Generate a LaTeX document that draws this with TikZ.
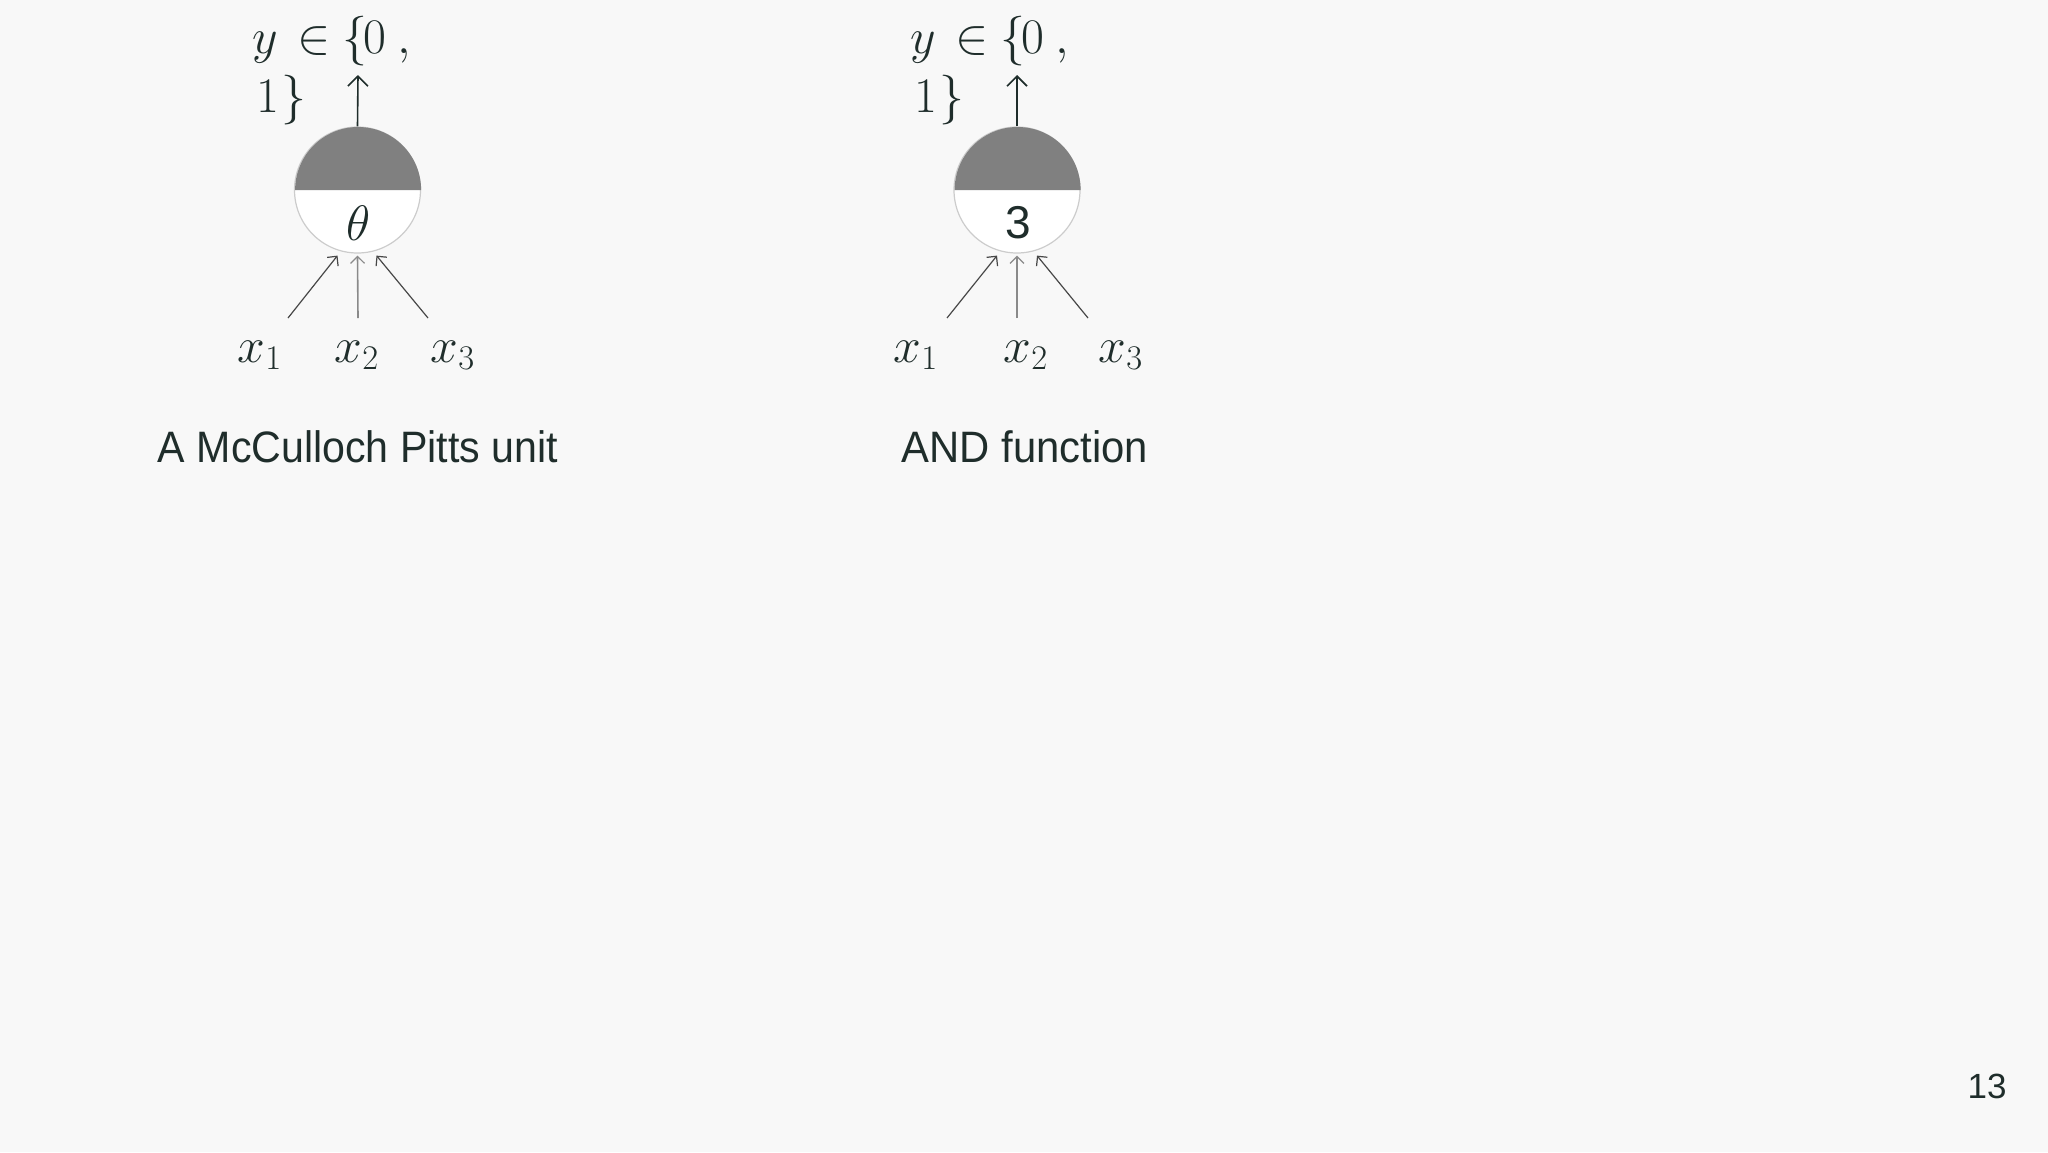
\documentclass[tikz,border=0pt]{standalone}
\usepackage{fontspec}
\newfontfamily\arialf{Liberation Sans}
\usetikzlibrary{arrows.meta}
\definecolor{bg}{HTML}{F8F8F8}
\definecolor{ink}{HTML}{1F2D2B}
\definecolor{halffill}{HTML}{808080}
\definecolor{rim}{HTML}{CCCCCC}
\definecolor{sidearrow}{HTML}{474747}
\definecolor{midarrow}{HTML}{8A8A8A}
\begin{document}
\begin{tikzpicture}[x=0.5pt,y=-0.5pt,
  unit/.style={circle, draw=rim, line width=0.6pt, fill=white, minimum size=63pt, inner sep=0pt},
  outarrow/.style={draw=ink, line width=0.8pt, -{Straight Barb[length=5pt,width=10pt,line width=0.8pt]}},
  inarrow/.style={draw=sidearrow, line width=0.6pt, -{Straight Barb[length=3.5pt,width=7pt,line width=0.6pt]}},
  midin/.style={inarrow, draw=midarrow, line width=0.8pt},
  mathlbl/.style={text=ink, inner sep=0pt, anchor=base west, font=\fontsize{24}{28}\selectfont},
  inlbl/.style={text=ink, inner sep=0pt, anchor=base, font=\fontsize{25}{29}\selectfont},
  caption/.style={text=ink, inner sep=0pt, anchor=base, font=\arialf\fontsize{22}{26}\selectfont}]
\fill[bg] (0,0) rectangle (2048,1152);
\useasboundingbox (0,0) rectangle (2048,1152);

% ---------- left unit ----------
\node[unit] (u1) at (357.5,190) {};
\fill[halffill] (u1.east) arc[start angle=0, end angle=180, radius=31.5pt] -- cycle;
\node[text=ink, inner sep=0pt, font=\fontsize{24}{28}\selectfont] (t1) at (359,223) {$\theta$};
\node[mathlbl] (ya1) at (252,53) {$y\kern9.7pt{\in}\kern6pt\{\kern-2pt0\kern5.5pt,$};
\node[mathlbl] (yb1) at (256,112) {$1\kern1pt\}$};
\coordinate (o1) at (358,75);
\draw[outarrow] (u1.north) -- (o1);
\node[inlbl] (x11) at (260,362) {$x_1$};
\node[inlbl] (x12) at (357,362) {$x_2$};
\node[inlbl] (x13) at (453,362) {$x_3$};
\coordinate (s11) at (288,318);
\coordinate (s12) at (358,318);
\coordinate (s13) at (428,318);
\draw[inarrow] (s11) -- ([xshift=-10pt,yshift=-1pt]u1.south);
\draw[midin] (s12) -- ([yshift=-1pt]u1.south);
\draw[inarrow] (s13) -- ([xshift=9.5pt,yshift=-1pt]u1.south);
\node[caption] (c1) at (358,462) {\scalebox{0.935}[1]{A McCulloch Pitts unit}};

% ---------- right unit ----------
\node[unit] (u2) at (1017,190) {};
\fill[halffill] (u2.east) arc[start angle=0, end angle=180, radius=31.5pt] -- cycle;
\node[text=ink, inner sep=0pt, font=\arialf\fontsize{23}{27}\selectfont] (t2) at (1018,223) {3};
\node[mathlbl] (ya2) at (910,53) {$y\kern9.7pt{\in}\kern6pt\{\kern-2pt0\kern5.5pt,$};
\node[mathlbl] (yb2) at (914,112) {$1\kern1pt\}$};
\coordinate (o2) at (1017,75);
\draw[outarrow] (u2.north) -- (o2);
\node[inlbl] (x21) at (916,362) {$x_1$};
\node[inlbl] (x22) at (1026,362) {$x_2$};
\node[inlbl] (x23) at (1121,362) {$x_3$};
\coordinate (s21) at (947,318);
\coordinate (s22) at (1017,318);
\coordinate (s23) at (1088,318);
\draw[inarrow] (s21) -- ([xshift=-10pt,yshift=-1pt]u2.south);
\draw[midin] (s22) -- ([yshift=-1pt]u2.south);
\draw[inarrow] (s23) -- ([xshift=10pt,yshift=-1pt]u2.south);
\node[caption] (c2) at (1025,462) {\scalebox{0.95}[1]{AND function}};

% ---------- page number ----------
\node[text=ink, inner sep=0pt, anchor=base east, font=\arialf\fontsize{17.5}{20}\selectfont] (pg) at (2007,1098) {13};
\end{tikzpicture}
\end{document}
